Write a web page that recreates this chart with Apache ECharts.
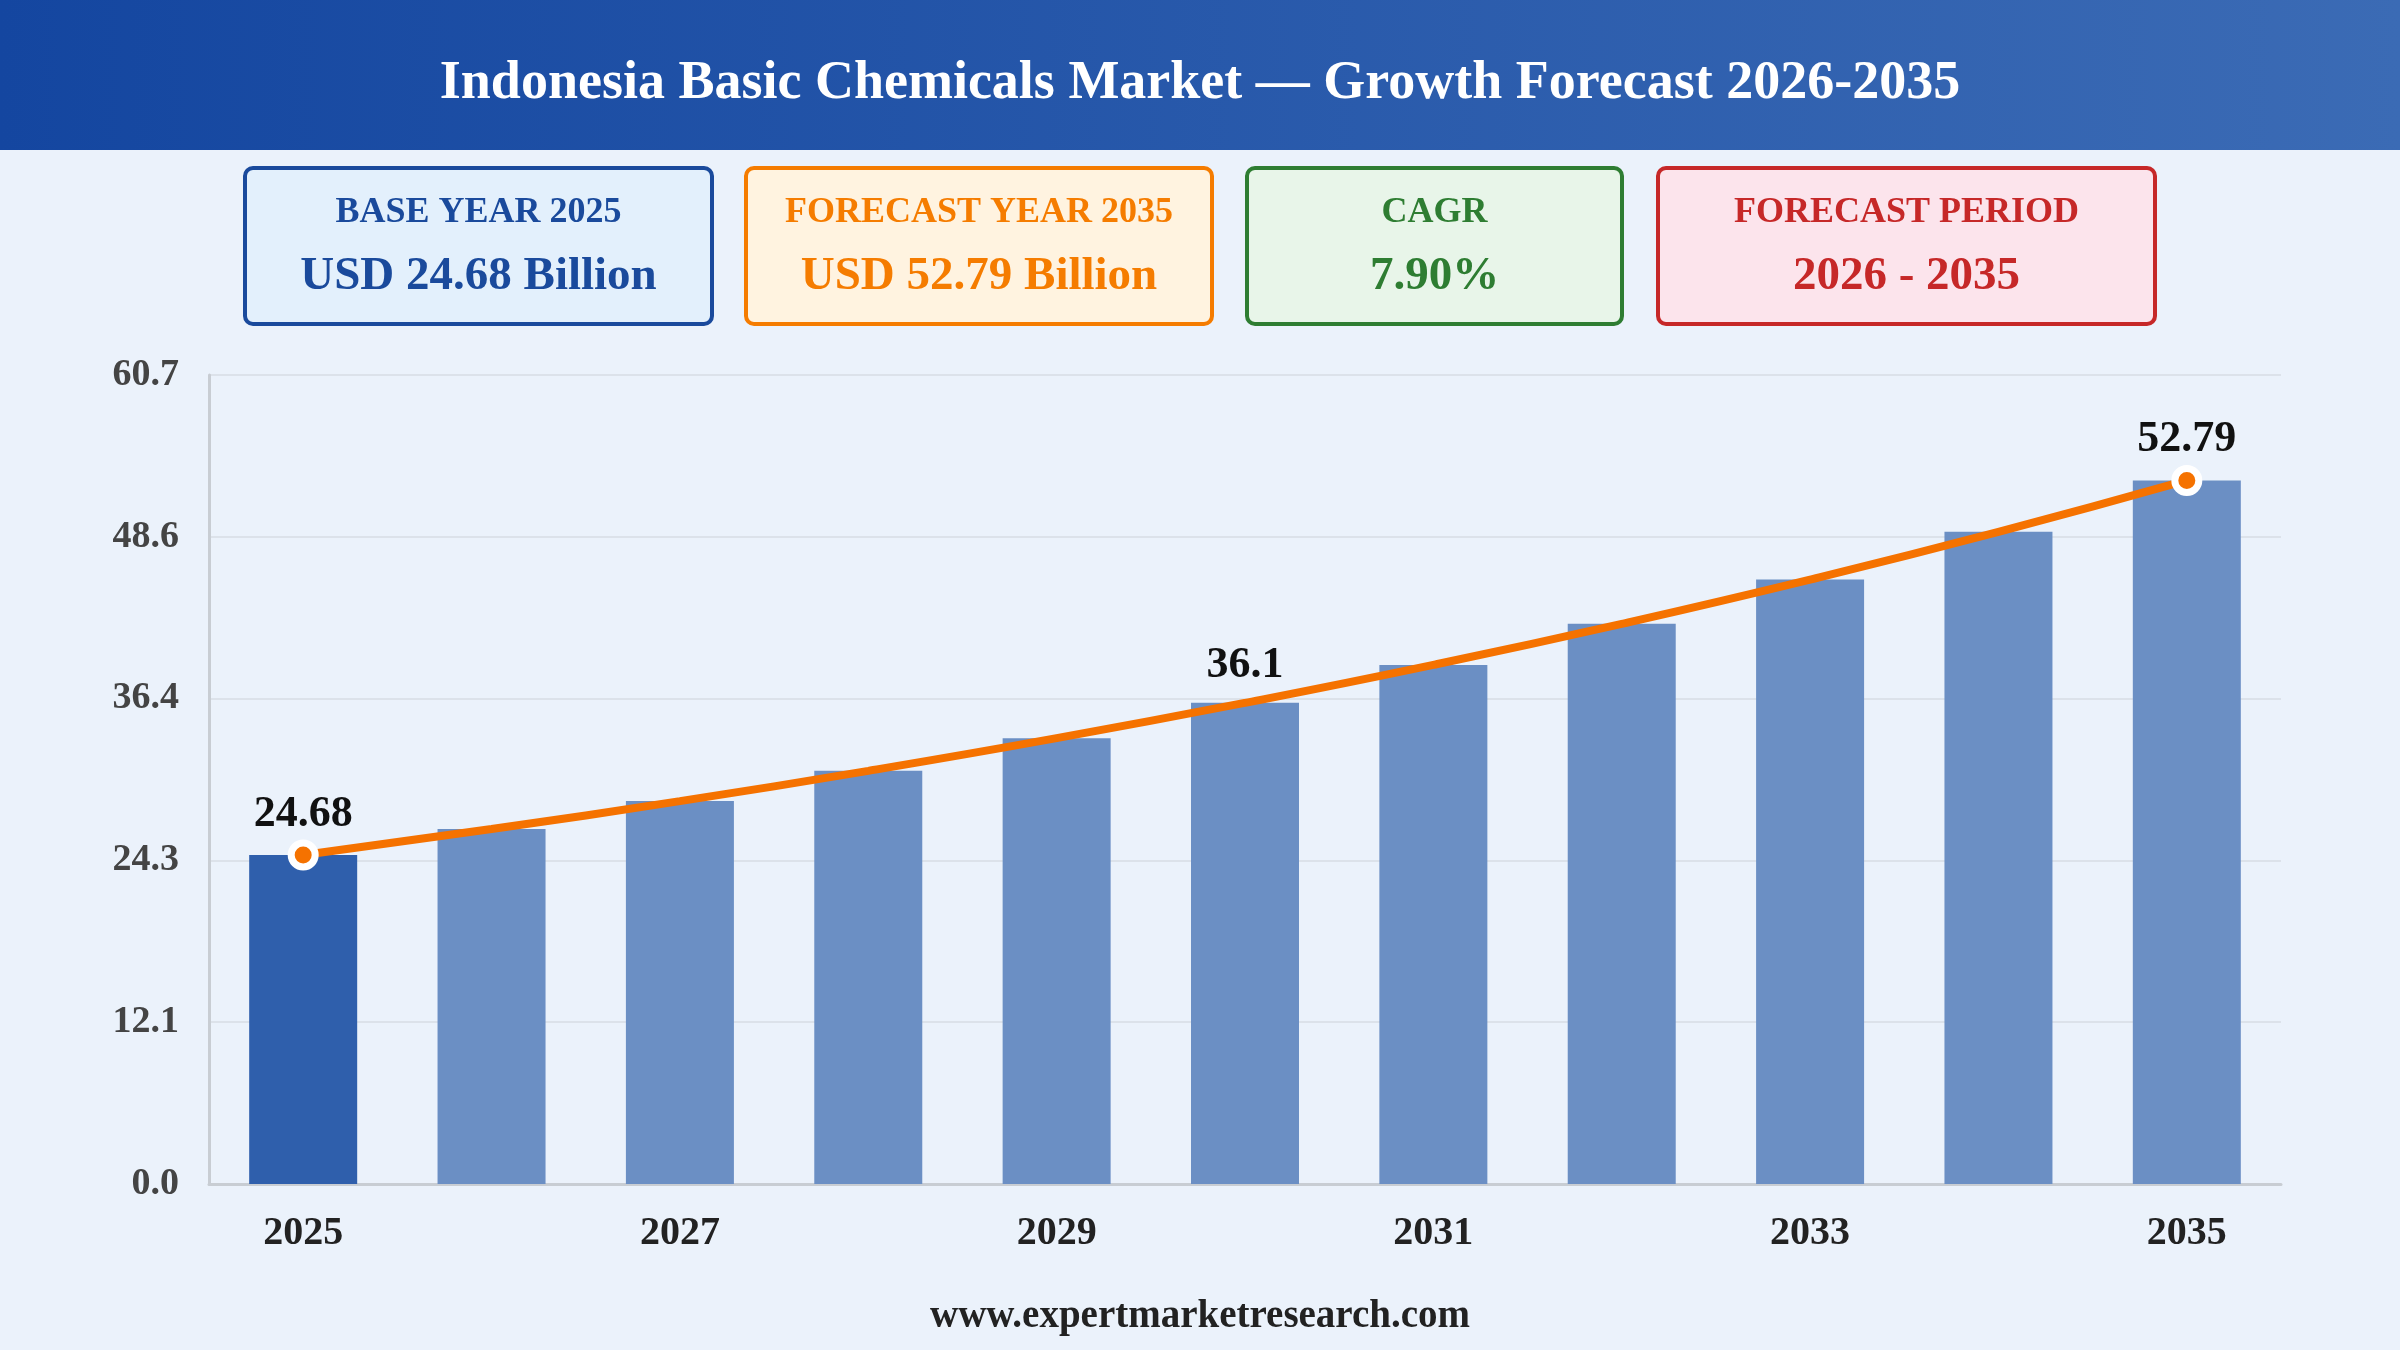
<!DOCTYPE html>
<html>
<head>
<meta charset="utf-8">
<script src="https://cdn.jsdelivr.net/npm/echarts@6/dist/echarts.min.js"></script>
<style>
html,body{margin:0;padding:0;background:#EBF2FB;}
#c{width:2400px;height:1350px;}
</style>
</head>
<body>
<div id="c"></div>
<script>
const years = ['2025','2026','2027','2028','2029','2030','2031','2032','2033','2034','2035'];
const marketValues = [24.68, 26.63, 28.73, 31.0, 33.45, 36.1, 38.95, 42.03, 45.35, 48.93, 52.79];
const labelledIdx = [0, 5, 10];
const markerIdx = [0, 10];
const yMin = 0, yMax = 60.7, yInterval = 12.14;
const titleText = 'Indonesia Basic Chemicals Market \u2014 Growth Forecast 2026-2035';
const cardLabels = ['BASE YEAR 2025', 'FORECAST YEAR 2035', 'CAGR', 'FORECAST PERIOD'];
const cardValues = ['USD 24.68 Billion', 'USD 52.79 Billion', '7.90%', '2026 - 2035'];
const footerText = 'www.expertmarketresearch.com';

const FONT = '"Liberation Serif","Times New Roman",serif';
const cardStyles = [
  {x:245, w:467, stroke:'#1A4A9C', fill:'#E3F0FC', text:'#1A4A9C'},
  {x:746, w:466, stroke:'#F57C00', fill:'#FFF3E0', text:'#F57C00'},
  {x:1247, w:375, stroke:'#2E7D32', fill:'#E8F5E9', text:'#2E7D32'},
  {x:1658, w:497, stroke:'#C62828', fill:'#FCE4EC', text:'#C62828'}
];

const graphics = [
  {type:'rect', left:0, top:0, z:0, shape:{width:2400, height:150},
   style:{fill:new echarts.graphic.LinearGradient(0,0,1,0,[{offset:0,color:'#1446A0'},{offset:1,color:'#3B6BB5'}])}},
  {type:'text', x:1200, y:84, z:2, style:{text:titleText, fill:'#FFFFFF', font:'bold 54px '+FONT, textAlign:'center', textVerticalAlign:'middle'}},
  {type:'text', x:1200, y:1317, z:2, style:{text:footerText, fill:'#222222', font:'bold 39px '+FONT, textAlign:'center', textVerticalAlign:'middle'}}
];
cardLabels.forEach((lab, i) => {
  const s = cardStyles[i];
  graphics.push({type:'rect', z:1, shape:{x:s.x, y:168, width:s.w, height:156, r:8},
    style:{fill:s.fill, stroke:s.stroke, lineWidth:4}});
  graphics.push({type:'text', x:s.x + s.w/2, y:213, z:2,
    style:{text:lab, fill:s.text, font:'bold 36px '+FONT, textAlign:'center', textVerticalAlign:'middle'}});
  graphics.push({type:'text', x:s.x + s.w/2, y:277, z:2,
    style:{text:cardValues[i], fill:s.text, font:'bold 47px '+FONT, textAlign:'center', textVerticalAlign:'middle'}});
});

const barData = marketValues.map((v, i) => ({
  value: v,
  itemStyle: {color: i === 0 ? '#2F5FAC' : '#6B8FC4'}
}));
const lineData = marketValues.map((v, i) => {
  const marked = markerIdx.includes(i);
  return {
    value: v,
    symbol: 'circle',
    symbolSize: marked ? 24 : 0.01,
    itemStyle: marked ? {} : {borderWidth: 0},
    label: {show: labelledIdx.includes(i), distance: marked ? 3 : 15}
  };
});

const chart = echarts.init(document.getElementById('c'));
chart.setOption({
  backgroundColor:'#EBF2FB',
  animation:false,
  graphic: graphics,
  grid:{left:209, right:119, top:375, bottom:166, containLabel:false},
  xAxis:{
    type:'category', data:years, boundaryGap:true,
    axisLine:{show:true, lineStyle:{color:'#C8CDD3', width:3}},
    axisTick:{show:false},
    axisLabel:{interval:1, color:'#222222', fontFamily:FONT, fontWeight:'bold', fontSize:40, margin:30}
  },
  yAxis:{
    type:'value', min:yMin, max:yMax, interval:yInterval,
    axisLine:{show:true, lineStyle:{color:'#C8CDD3', width:3}},
    axisTick:{show:false},
    splitLine:{show:true, lineStyle:{color:'#DCE2EA', width:2}},
    axisLabel:{color:'#444444', fontFamily:FONT, fontWeight:'bold', fontSize:38, margin:30,
      formatter: v => v.toFixed(1)}
  },
  series:[
    {type:'bar', data:barData, barWidth:108, z:2},
    {type:'line', data:lineData, smooth:true, z:3, showAllSymbol:true,
      lineStyle:{color:'#F57200', width:8},
      itemStyle:{color:'#F57200', borderColor:'#FFFFFF', borderWidth:7},
      label:{position:'top', color:'#111111', fontFamily:FONT, fontWeight:'bold', fontSize:44,
        formatter: p => String(p.value)},
      labelLayout:{hideOverlap:false}
    }
  ]
});
</script>
</body>
</html>
